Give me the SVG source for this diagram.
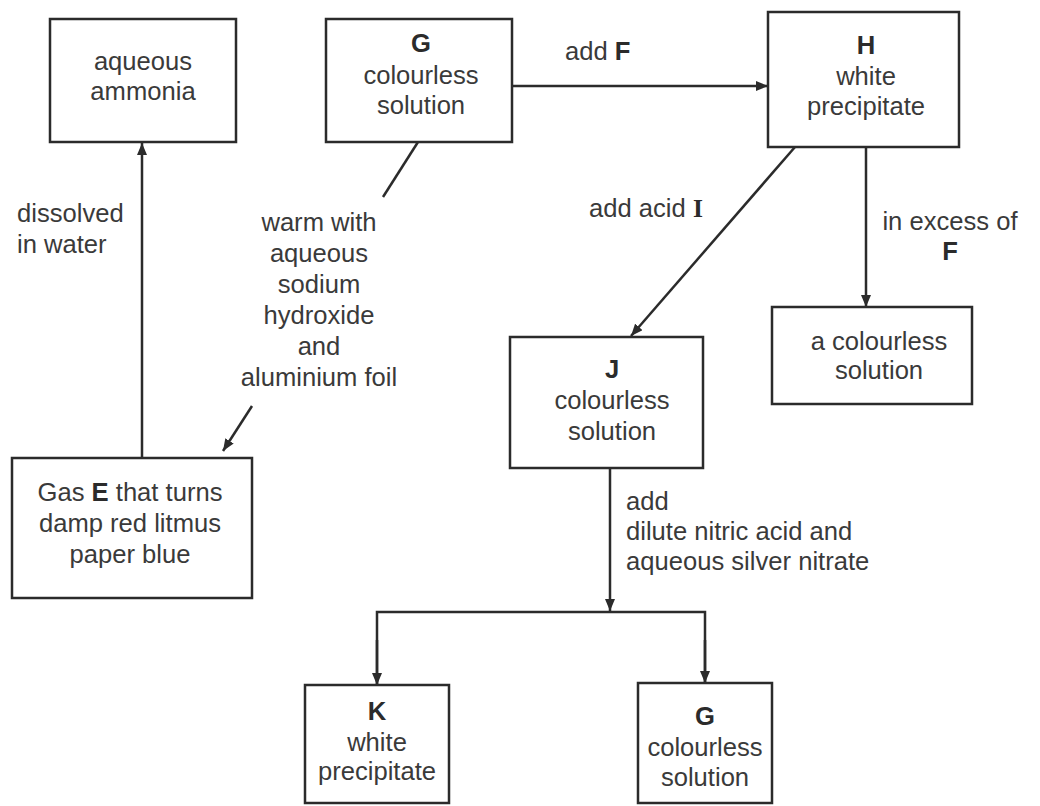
<svg xmlns="http://www.w3.org/2000/svg" width="1040" height="806" viewBox="0 0 1040 806">
<style>
.box{fill:#fff;stroke:#2b2b2b;stroke-width:2.5}
.t{font-family:"Liberation Sans",Arial,sans-serif;font-size:25.6px;fill:#3a3a3a}
.c{text-anchor:middle}
.b{font-weight:bold;fill:#2b2b2b}
.s{font-family:"Liberation Serif","Times New Roman",serif;font-weight:bold;fill:#2b2b2b}
.ln{stroke:#2b2b2b;stroke-width:2.5;fill:none}
</style>
<defs>
<marker id="ah" markerUnits="userSpaceOnUse" markerWidth="12" markerHeight="10" refX="12" refY="5" orient="auto">
<path d="M0,0 L12,5 L0,10 Z" fill="#2b2b2b"/>
</marker>
</defs>
<rect width="1040" height="806" fill="#fff"/>
<g id="connectors">
<line class="ln" x1="512" y1="86" x2="768" y2="86" marker-end="url(#ah)"/>
<line class="ln" x1="418" y1="142" x2="383" y2="197"/>
<line class="ln" x1="252" y1="406" x2="223" y2="451" marker-end="url(#ah)"/>
<line class="ln" x1="142" y1="458" x2="142" y2="143" marker-end="url(#ah)"/>
<line class="ln" x1="795" y1="147" x2="631" y2="336" marker-end="url(#ah)"/>
<line class="ln" x1="866" y1="147" x2="866" y2="307" marker-end="url(#ah)"/>
<line class="ln" x1="610" y1="468" x2="610" y2="611" marker-end="url(#ah)"/>
<polyline class="ln" points="377,685 377,612 705,612 705,683"/>
<line class="ln" x1="377" y1="640" x2="377" y2="685" marker-end="url(#ah)"/>
<line class="ln" x1="705" y1="640" x2="705" y2="683" marker-end="url(#ah)"/>
<text class="t" x="565" y="60">add <tspan class="b">F</tspan></text>
<text class="t" x="17" y="222">dissolved</text>
<text class="t" x="17" y="253">in water</text>
<text class="t c" x="319" y="231">warm with</text>
<text class="t c" x="319" y="262">aqueous</text>
<text class="t c" x="319" y="293">sodium</text>
<text class="t c" x="319" y="324">hydroxide</text>
<text class="t c" x="319" y="355">and</text>
<text class="t c" x="319" y="386">aluminium foil</text>
<text class="t" x="589" y="217">add acid <tspan class="s">I</tspan></text>
<text class="t c" x="950" y="230">in excess of</text>
<text class="t c b" x="950" y="260">F</text>
<text class="t" x="626" y="510">add</text>
<text class="t" x="626" y="540">dilute nitric acid and</text>
<text class="t" x="626" y="570">aqueous silver nitrate</text>
</g>
<g id="ammonia">
<rect class="box" x="50" y="19" width="186" height="123"/>
<text class="t c" x="143" y="70">aqueous</text>
<text class="t c" x="143" y="100">ammonia</text>
</g>
<g id="G">
<rect class="box" x="326" y="19" width="186" height="123"/>
<text class="t c b" x="421" y="52">G</text>
<text class="t c" x="421" y="84">colourless</text>
<text class="t c" x="421" y="114">solution</text>
</g>
<g id="H">
<rect class="box" x="768" y="12" width="191" height="135"/>
<text class="t c b" x="866" y="54">H</text>
<text class="t c" x="866" y="85">white</text>
<text class="t c" x="866" y="115">precipitate</text>
</g>
<g id="E">
<rect class="box" x="12" y="458" width="240" height="140"/>
<text class="t c" x="130" y="501">Gas <tspan class="b">E</tspan> that turns</text>
<text class="t c" x="130" y="532">damp red litmus</text>
<text class="t c" x="130" y="563">paper blue</text>
</g>
<g id="excess">
<rect class="box" x="772" y="307" width="200" height="97"/>
<text class="t c" x="879" y="350">a colourless</text>
<text class="t c" x="879" y="379">solution</text>
</g>
<g id="J">
<rect class="box" x="510" y="337" width="193" height="131"/>
<text class="t c b" x="612" y="378">J</text>
<text class="t c" x="612" y="409">colourless</text>
<text class="t c" x="612" y="440">solution</text>
</g>
<g id="K">
<rect class="box" x="305" y="685" width="144" height="118"/>
<text class="t c b" x="377" y="720">K</text>
<text class="t c" x="377" y="751">white</text>
<text class="t c" x="377" y="780">precipitate</text>
</g>
<g id="G2">
<rect class="box" x="638" y="683" width="134" height="120"/>
<text class="t c b" x="705" y="725">G</text>
<text class="t c" x="705" y="756">colourless</text>
<text class="t c" x="705" y="786">solution</text>
</g>
</svg>
